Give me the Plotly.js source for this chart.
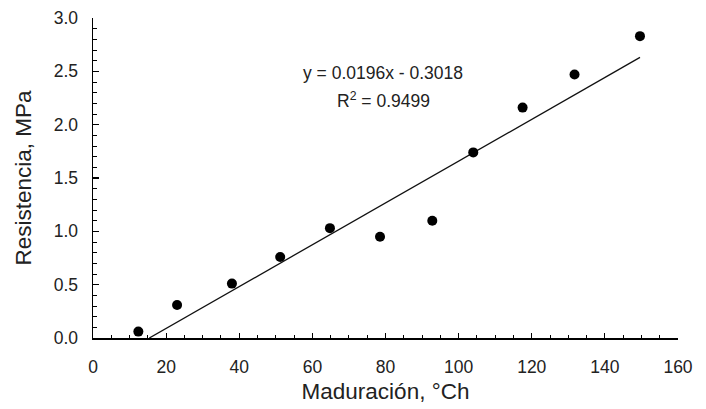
<!DOCTYPE html>
<html>
<head>
<meta charset="utf-8">
<script src="https://cdn.plot.ly/plotly-3.0.1.min.js"></script>
<style>html,body{margin:0;padding:0;background:#fff;}#chart{width:706px;height:409px;}</style>
</head>
<body>
<div id="chart"></div>
<script>
const maduracion = [12.4, 23.0, 38.0, 51.2, 64.8, 78.5, 92.8, 104.0, 117.5, 131.7, 149.6];
const resistencia = [0.06, 0.31, 0.51, 0.76, 1.03, 0.95, 1.10, 1.74, 2.16, 2.47, 2.83];
const slope = 0.0196;
const intercept = -0.3018;
const equationText = "y = 0.0196x - 0.3018";
const r2Text = "R<sup>2</sup> = 0.9499";

const xMin = Math.min(...maduracion), xMax = Math.max(...maduracion);
const xStart = Math.max(xMin, -intercept / slope);
const fitX = [xStart, xMax];
const fitY = fitX.map(x => slope * x + intercept);

const font = "Liberation Sans, Arial, sans-serif";
const data = [
  {x: fitX, y: fitY, mode: 'lines', line: {color: '#111', width: 1.3}, hoverinfo: 'skip'},
  {x: maduracion, y: resistencia, mode: 'markers', marker: {color: '#000', size: 10}}
];
const layout = {
  width: 706, height: 409,
  margin: {l: 93, r: 28, t: 18, b: 71},
  paper_bgcolor: '#fff', plot_bgcolor: '#fff',
  showlegend: false,
  font: {family: font, color: '#222', size: 17.5},
  xaxis: {
    range: [0, 160], dtick: 20, tick0: 0,
    showgrid: false, zeroline: false,
    showline: true, linecolor: '#000', linewidth: 1.5,
    ticks: 'inside', ticklen: 5, tickwidth: 1.2, tickcolor: '#000',
    minor: {dtick: 5, ticks: 'inside', ticklen: 3, tickwidth: 1, tickcolor: '#000', showgrid: false},
    tickfont: {size: 17.5, color: '#222'},
    ticklabelstandoff: 12,
    title: {text: 'Maduración, °Ch', font: {size: 22.5, color: '#222'}, standoff: 7}
  },
  yaxis: {
    range: [0, 3], dtick: 0.5, tick0: 0, tickformat: '.1f',
    showgrid: false, zeroline: false,
    showline: true, linecolor: '#000', linewidth: 1.5,
    ticks: 'inside', ticklen: 6, tickwidth: 1.2, tickcolor: '#000',
    minor: {dtick: 0.1, ticks: 'inside', ticklen: 4, tickwidth: 1, tickcolor: '#000', showgrid: false},
    tickfont: {size: 17.5, color: '#222'},
    ticklabelstandoff: 10,
    title: {text: 'Resistencia, MPa', font: {size: 22.5, color: '#222'}, standoff: 16}
  },
  annotations: [
    {x: 383, y: 73, text: equationText},
    {x: 383, y: 100, text: r2Text}
  ]
};
// convert pixel positions of annotations to paper coords
const pw = 706 - 93 - 28, ph = 409 - 18 - 71;
layout.annotations.forEach(a => {
  a.x = (a.x - 93) / pw;
  a.y = 1 - (a.y - 18) / ph;
  a.xref = 'paper'; a.yref = 'paper';
  a.xanchor = 'center'; a.yanchor = 'middle';
  a.showarrow = false;
  a.font = {size: 17.5, color: '#222', family: font};
});
Plotly.newPlot('chart', data, layout, {displayModeBar: false, staticPlot: true});
</script>
</body>
</html>
